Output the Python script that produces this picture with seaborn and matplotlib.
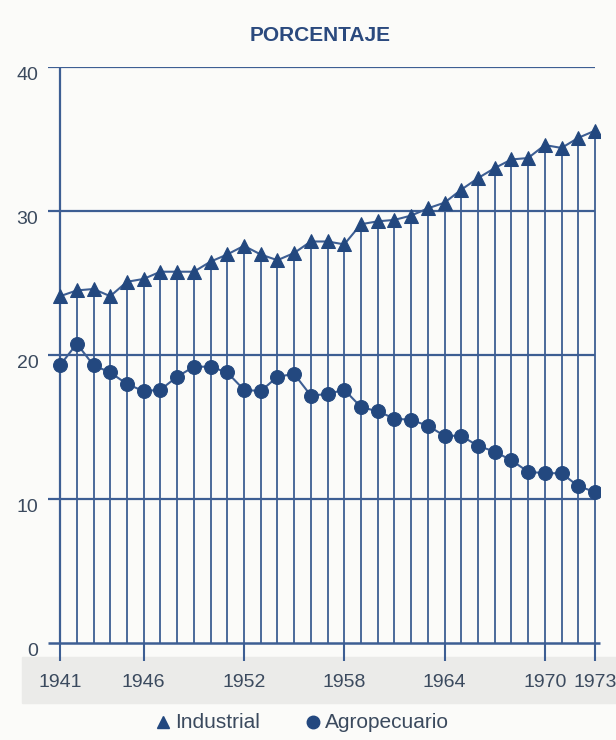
import matplotlib
matplotlib.use("Agg")
import matplotlib.pyplot as plt
from matplotlib.lines import Line2D
from matplotlib.patches import Rectangle
import seaborn as sns
import pandas as pd

# data
years = list(range(1941, 1974))
industrial = [24.1, 24.5, 24.6, 24.1, 25.1, 25.3, 25.8, 25.8, 25.8, 26.5,
              27.0, 27.6, 27.0, 26.6, 27.1, 27.9, 27.9, 27.7, 29.1, 29.3,
              29.4, 29.7, 30.2, 30.6, 31.5, 32.3, 33.0, 33.6, 33.7, 34.6,
              34.4, 35.1, 35.6]
agropecuario = [19.3, 20.8, 19.3, 18.8, 18.0, 17.5, 17.6, 18.5, 19.2, 19.2,
                18.8, 17.6, 17.5, 18.5, 18.7, 17.2, 17.3, 17.6, 16.4, 16.1,
                15.6, 15.5, 15.1, 14.4, 14.4, 13.7, 13.3, 12.7, 11.9, 11.8,
                11.8, 10.9, 10.5]
tick_years = [1941, 1946, 1952, 1958, 1964, 1970, 1973]
y_ticks = [0, 10, 20, 30, 40]
series_names = ["Industrial", "Agropecuario"]

df = pd.DataFrame({"year": years, "Industrial": industrial, "Agropecuario": agropecuario})

sns.set_style("white")
plt.rcParams['font.family'] = ['Liberation Sans', 'DejaVu Sans']

line_col = "#3d5e93"
mark_col = "#23487f"
text_col = "#3b4a5e"

fig = plt.figure(figsize=(6.16, 7.4), dpi=100)
fig.patch.set_facecolor("#fbfbf9")
# grey shadow band behind the year labels (kept under the axes)
fig.patches.append(Rectangle((0.035, 0.05), 0.965, 0.062, transform=fig.transFigure,
                             color="#ebebe9", zorder=-5))

ax = fig.add_axes([0.078, 0.131, 0.896, 0.778])
ax.set_zorder(2)
ax.set_facecolor("none")
x0, x1 = 1940.28, 1973.3
ax.set_xlim(x0, x1)
ax.set_ylim(0, 40)

# horizontal rules (they stick out left of the 1941 line) and left axis
ax.hlines(y_ticks[1:], x0, years[-1], color=line_col, lw=1.6, zorder=1)
ax.hlines(0, x0, x1, color=line_col, lw=1.8, zorder=1, clip_on=False)
ax.vlines(years[0], 0, 40, color=line_col, lw=1.6, zorder=1)
# stems from zero up to the industrial series
ax.vlines(df["year"], 0, df["Industrial"], color=line_col, lw=1.3, zorder=1)

sns.lineplot(data=df, x="year", y="Industrial", ax=ax, color=line_col, lw=1.5,
             marker="^", markersize=10, markerfacecolor=mark_col,
             markeredgecolor=mark_col, zorder=3)
sns.lineplot(data=df, x="year", y="Agropecuario", ax=ax, color=line_col, lw=1.5,
             marker="o", markersize=10, markerfacecolor=mark_col,
             markeredgecolor=mark_col, zorder=3)

for s in ax.spines.values():
    s.set_visible(False)

ax.set_xticks(tick_years)
ax.set_xticklabels([str(y) for y in tick_years])
ax.set_yticks(y_ticks)
ax.tick_params(axis="x", bottom=True, direction="out", length=13, width=1.5,
               color=line_col, labelsize=14, labelcolor=text_col, pad=9)
ax.tick_params(axis="y", left=False, length=0, labelsize=14,
               labelcolor=text_col, pad=7)
for lbl in ax.get_yticklabels():
    lbl.set_va("top")
ax.set_xlabel("")
ax.set_ylabel("")

fig.text(0.52, 0.952, "PORCENTAJE", ha="center", va="center", fontsize=15,
         fontweight="bold", color="#2b4a7e")

# legend row under the chart
leg_y = 1 - 722 / 740
for name, mk, xm in zip(series_names, ["^", "o"], [163, 313]):
    fig.add_artist(Line2D([xm / 616], [leg_y], transform=fig.transFigure, ls="none",
                          marker=mk, markersize=9, color=mark_col))
    fig.text((xm + 12) / 616, leg_y, name, ha="left", va="center", fontsize=15,
             color=text_col)

fig.savefig("out.png", dpi=100, facecolor=fig.get_facecolor())
